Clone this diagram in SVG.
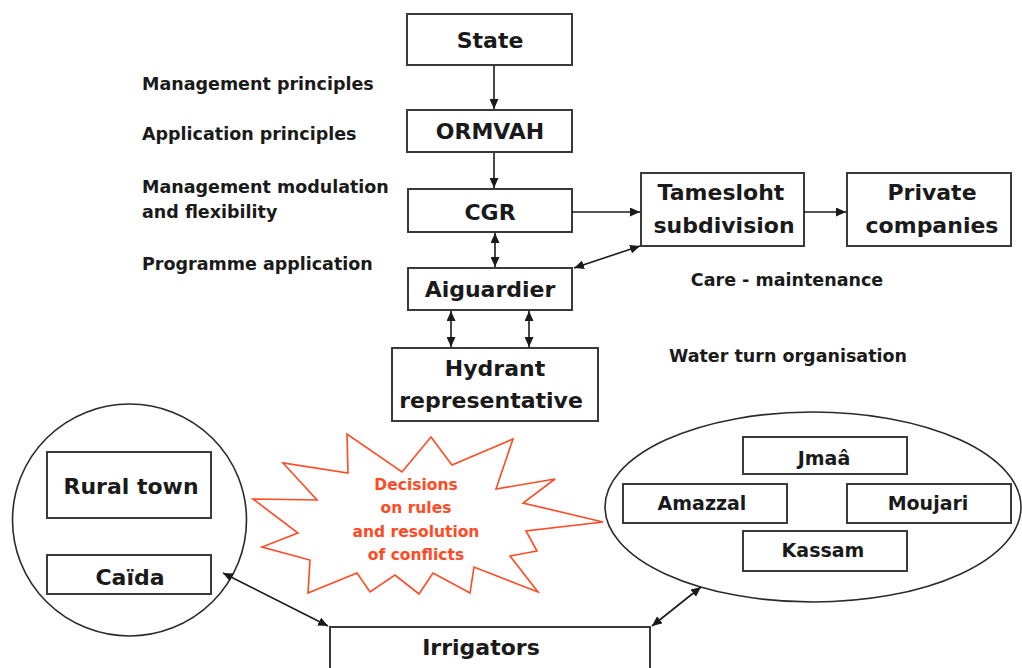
<svg xmlns="http://www.w3.org/2000/svg" width="1022" height="668" viewBox="0 0 1022 668">
<style>
.box{fill:#fff;stroke:#3a3a3a;stroke-width:2}
.lbl{font-family:"DejaVu Sans",Verdana,sans-serif;font-weight:bold;fill:#1a1a1a;text-anchor:middle}
.big{font-size:22px}
.mid{font-size:19px}
.side{font-family:"DejaVu Sans",Verdana,sans-serif;font-weight:bold;font-size:17.5px;fill:#1a1a1a}
.red{font-family:"DejaVu Sans",Verdana,sans-serif;font-weight:bold;font-size:15.5px;fill:#ff4a24;text-anchor:middle}
.con{stroke:#1a1a1a;stroke-width:1.6;fill:none}
.ell{fill:#fff;stroke:#2a2a2a;stroke-width:1.6}
</style>
<defs>
<marker id="ah" markerUnits="userSpaceOnUse" markerWidth="11" markerHeight="9" refX="10" refY="4.5" orient="auto-start-reverse" viewBox="0 0 11 9">
<path d="M0,0 L10,4.5 L0,9 z" fill="#1a1a1a"/>
</marker>
</defs>
<rect width="1022" height="668" fill="#fff"/>

<g id="side-labels">
<text class="side" x="142" y="90">Management principles</text>
<text class="side" x="142" y="140">Application principles</text>
<text class="side" x="142" y="193">Management modulation</text>
<text class="side" x="142" y="218">and flexibility</text>
<text class="side" x="142" y="270">Programme application</text>
<text class="side" x="787" y="286" text-anchor="middle">Care - maintenance</text>
<text class="side" x="788" y="362" text-anchor="middle">Water turn organisation</text>
</g>

<g id="left-circle">
<ellipse class="ell" cx="129.5" cy="520" rx="117" ry="116"/>
</g>
<g id="right-ellipse">
<ellipse class="ell" cx="813" cy="507" rx="208" ry="95"/>
</g>

<g id="starburst">
<polygon fill="#fff" stroke="#ff4a24" stroke-width="1.6" points="347,434 348,473 283,463 317,500 253,499 298,533 262,547 310,560 308,593 357,573 370,592 395,575 419,594 433,573 470,593 474,567 538,592 510,556 537,551 526,531 603,522 523,503 555,479 496,489 513,439 452,465 431,437 402,472"/>
<text class="red" x="416" y="490">Decisions</text>
<text class="red" x="416" y="513">on rules</text>
<text class="red" x="416" y="537">and resolution</text>
<text class="red" x="416" y="560">of conflicts</text>
</g>

<g id="state"><rect class="box" x="407" y="14" width="165" height="51"/><text class="lbl big" x="490" y="48">State</text></g>
<g id="ormvah"><rect class="box" x="407" y="110" width="165" height="42"/><text class="lbl big" x="490" y="139">ORMVAH</text></g>
<g id="cgr"><rect class="box" x="408" y="189" width="164" height="43"/><text class="lbl big" x="490" y="220">CGR</text></g>
<g id="aiguardier"><rect class="box" x="408" y="268" width="164" height="42"/><text class="lbl big" x="490" y="297">Aiguardier</text></g>
<g id="hydrant"><rect class="box" x="392" y="348" width="206" height="73"/><text class="lbl big" x="495" y="376">Hydrant</text><text class="lbl big" x="491" y="408">representative</text></g>
<g id="tamesloht"><rect class="box" x="641" y="173" width="163" height="73"/><text class="lbl big" x="721" y="200">Tamesloht</text><text class="lbl big" x="724" y="233">subdivision</text></g>
<g id="private"><rect class="box" x="847" y="173" width="164" height="73"/><text class="lbl big" x="932" y="200">Private</text><text class="lbl big" x="932" y="233">companies</text></g>
<g id="rural-town"><rect class="box" x="47" y="452" width="164" height="66"/><text class="lbl big" x="131" y="494">Rural town</text></g>
<g id="caida"><rect class="box" x="47" y="555" width="164" height="39"/><text class="lbl big" x="130" y="585">Caïda</text></g>
<g id="irrigators"><rect class="box" x="330" y="627" width="320" height="60"/><text class="lbl big" x="481" y="655">Irrigators</text></g>
<g id="jmaa"><rect class="box" x="743" y="437" width="164" height="37"/><text class="lbl mid" x="824" y="465">Jmaâ</text></g>
<g id="amazzal"><rect class="box" x="623" y="484" width="164" height="39"/><text class="lbl mid" x="702" y="510">Amazzal</text></g>
<g id="moujari"><rect class="box" x="847" y="484" width="164" height="39"/><text class="lbl mid" x="928" y="510">Moujari</text></g>
<g id="kassam"><rect class="box" x="743" y="531" width="164" height="40"/><text class="lbl mid" x="823" y="557">Kassam</text></g>

<g id="connectors">
<line class="con" x1="494" y1="66" x2="494" y2="109" marker-end="url(#ah)"/>
<line class="con" x1="494" y1="153" x2="494" y2="188" marker-end="url(#ah)"/>
<line class="con" x1="495" y1="233" x2="495" y2="267" marker-start="url(#ah)" marker-end="url(#ah)"/>
<line class="con" x1="572" y1="212" x2="640" y2="212" marker-end="url(#ah)"/>
<line class="con" x1="804" y1="212" x2="846" y2="212" marker-end="url(#ah)"/>
<line class="con" x1="574" y1="268" x2="640" y2="246" marker-start="url(#ah)" marker-end="url(#ah)"/>
<line class="con" x1="451" y1="311" x2="451" y2="347" marker-start="url(#ah)" marker-end="url(#ah)"/>
<line class="con" x1="529" y1="311" x2="529" y2="347" marker-start="url(#ah)" marker-end="url(#ah)"/>
<line class="con" x1="223" y1="573" x2="328" y2="626" marker-start="url(#ah)" marker-end="url(#ah)"/>
<line class="con" x1="652" y1="626" x2="701" y2="587" marker-start="url(#ah)" marker-end="url(#ah)"/>
</g>
</svg>
